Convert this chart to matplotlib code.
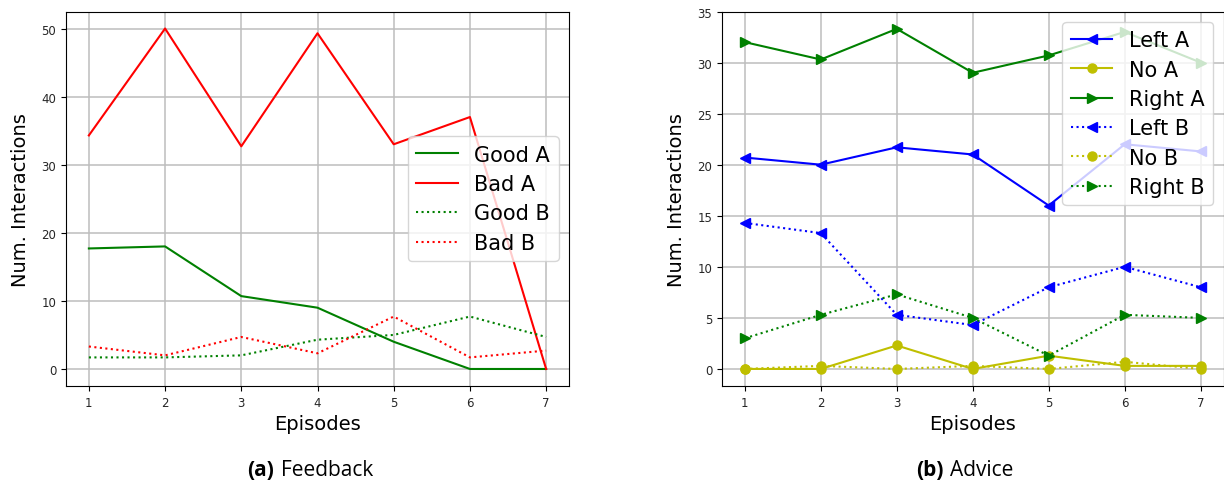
import matplotlib
matplotlib.use("Agg")
import matplotlib.pyplot as plt

episodes = [1, 2, 3, 4, 5, 6, 7]

# (a) Feedback
good_a = [17.7, 18.0, 10.7, 9.0, 4.0, 0.0, 0.0]
bad_a = [34.3, 50.0, 32.7, 49.3, 33.0, 37.0, 0.0]
good_b = [1.7, 1.7, 2.0, 4.3, 5.0, 7.7, 4.7]
bad_b = [3.3, 2.0, 4.7, 2.3, 7.7, 1.7, 2.7]

# (b) Advice
left_a = [20.7, 20.0, 21.7, 21.0, 16.0, 22.0, 21.3]
no_a = [0.0, 0.0, 2.3, 0.0, 1.3, 0.3, 0.3]
right_a = [32.0, 30.3, 33.3, 29.0, 30.7, 33.0, 30.0]
left_b = [14.3, 13.3, 5.3, 4.3, 8.0, 10.0, 8.0]
no_b = [0.0, 0.3, 0.0, 0.3, 0.0, 0.7, 0.0]
right_b = [3.0, 5.3, 7.3, 5.0, 1.3, 5.3, 5.0]

W, H = 1224, 481
fig = plt.figure(figsize=(W / 100, H / 100), dpi=100)

def px_axes(x0, x1, y0, y1):
    return fig.add_axes([x0 / W, (H - y1) / H, (x1 - x0) / W, (y1 - y0) / H])

ax1 = px_axes(66, 569, 12.5, 387)
ax2 = px_axes(722, 1223.5, 12.5, 387)

lw = 1.5
ax1.plot(episodes, good_a, color="g", lw=lw, label="Good A")
ax1.plot(episodes, bad_a, color="r", lw=lw, label="Bad A")
ax1.plot(episodes, good_b, color="g", lw=lw, ls=":", label="Good B")
ax1.plot(episodes, bad_b, color="r", lw=lw, ls=":", label="Bad B")

ms = 6.5
ax2.plot(episodes, left_a, color="b", lw=lw, marker="<", ms=ms, label="Left A")
ax2.plot(episodes, no_a, color="y", lw=lw, marker="o", ms=ms, label="No A")
ax2.plot(episodes, right_a, color="g", lw=lw, marker=">", ms=ms, label="Right A")
ax2.plot(episodes, left_b, color="b", lw=lw, ls=":", marker="<", ms=ms, label="Left B")
ax2.plot(episodes, no_b, color="y", lw=lw, ls=":", marker="o", ms=ms, label="No B")
ax2.plot(episodes, right_b, color="g", lw=lw, ls=":", marker=">", ms=ms, label="Right B")

ax1.set_yticks([0, 10, 20, 30, 40, 50])
ax2.set_yticks([0, 5, 10, 15, 20, 25, 30, 35])
ax2.set_ylim(-1.67, 35)

for ax in (ax1, ax2):
    ax.set_xticks(episodes)
    ax.set_xlim(0.7, 7.3)
    ax.grid(True, color="#bdbdbd", lw=1.1)
    ax.tick_params(labelsize=8.5, labelcolor="#262626")
    ax.set_xlabel("Episodes", fontsize=14, labelpad=4)
    ax.set_ylabel("Num. Interactions", fontsize=14, labelpad=8)

ax1.legend(loc="center right", fontsize=15, labelspacing=0.45, borderaxespad=0.5)
ax2.legend(loc="upper right", fontsize=15, labelspacing=0.45, borderaxespad=0.5)

cap = dict(fontsize=15, family="Open Sans", va="baseline")
fig.text(274 / W, 1 - 476 / H, "(a)", ha="right", weight="bold", **cap)
fig.text(281 / W, 1 - 476 / H, "Feedback", ha="left", **cap)
fig.text(944 / W, 1 - 476 / H, "(b)", ha="right", weight="bold", **cap)
fig.text(950 / W, 1 - 476 / H, "Advice", ha="left", **cap)

fig.savefig("out.png", dpi=100)
